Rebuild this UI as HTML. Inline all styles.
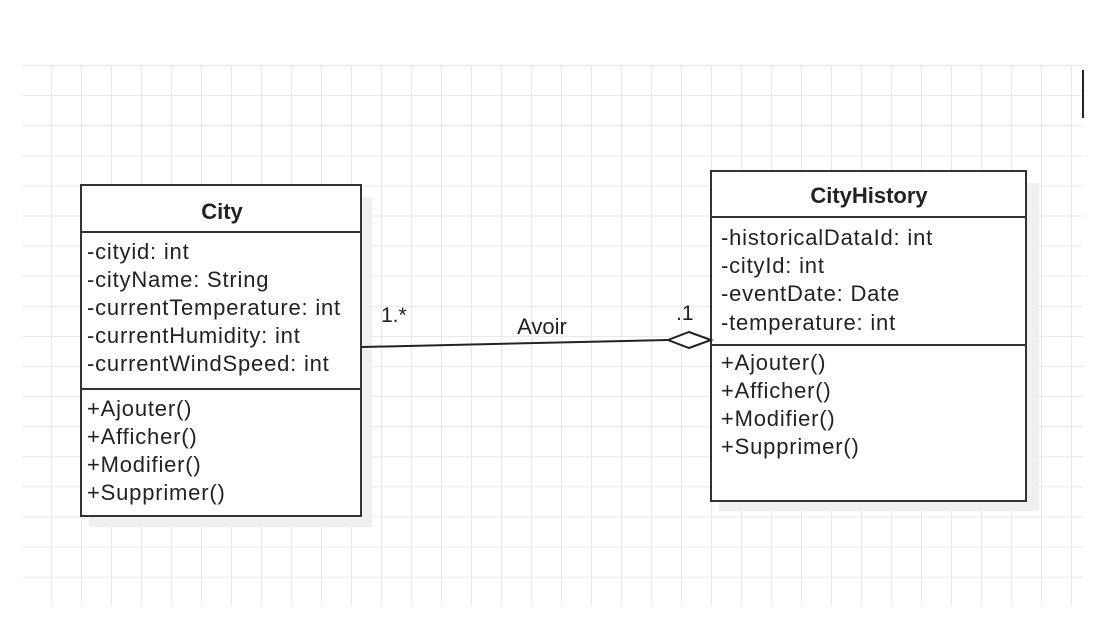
<!DOCTYPE html>
<html><head><meta charset="utf-8"><style>
html,body{margin:0;padding:0;background:#fff;}
svg{display:block;}
text{font-family:"Liberation Sans",sans-serif;fill:#222;}
</style></head><body>
<svg width="1104" height="632" viewBox="0 0 1104 632" xmlns="http://www.w3.org/2000/svg">
<defs>
<pattern id="g" x="22" y="65" width="30" height="30.1" patternUnits="userSpaceOnUse">
<path d="M30 0V30.1M0 0H30" stroke="#e8e8e8" stroke-width="2" fill="none"/>
</pattern>
</defs>
<rect x="22" y="65" width="1061" height="541" fill="url(#g)"/>
<line x1="1083" y1="70" x2="1083" y2="118" stroke="#222" stroke-width="2"/>
<!-- City -->
<rect x="89" y="197" width="283" height="330" fill="#f0f0f0"/>
<rect x="81" y="185" width="280" height="331" fill="#fff" stroke="#333" stroke-width="2"/>
<line x1="81" y1="232" x2="361" y2="232" stroke="#333" stroke-width="2"/>
<line x1="81" y1="389" x2="361" y2="389" stroke="#333" stroke-width="2"/>
<text x="222" y="219" text-anchor="middle" font-weight="bold" font-size="22">City</text>
<g font-size="22" letter-spacing="0.8">
<text x="87" y="259">-cityid: int</text>
<text x="87" y="287">-cityName: String</text>
<text x="87" y="315">-currentTemperature: int</text>
<text x="87" y="343">-currentHumidity: int</text>
<text x="87" y="371">-currentWindSpeed: int</text>
<text x="87" y="416">+Ajouter()</text>
<text x="87" y="444">+Afficher()</text>
<text x="87" y="472">+Modifier()</text>
<text x="87" y="500">+Supprimer()</text>
</g>
<!-- CityHistory -->
<rect x="719" y="183" width="320" height="328" fill="#f0f0f0"/>
<rect x="711" y="171" width="315" height="330" fill="#fff" stroke="#333" stroke-width="2"/>
<line x1="711" y1="217" x2="1026" y2="217" stroke="#333" stroke-width="2"/>
<line x1="711" y1="345" x2="1026" y2="345" stroke="#333" stroke-width="2"/>
<text x="869" y="203" text-anchor="middle" font-weight="bold" font-size="22">CityHistory</text>
<g font-size="22" letter-spacing="0.8">
<text x="721" y="245">-historicalDataId: int</text>
<text x="721" y="273">-cityId: int</text>
<text x="721" y="301">-eventDate: Date</text>
<text x="721" y="330">-temperature: int</text>
<text x="721" y="370">+Ajouter()</text>
<text x="721" y="398">+Afficher()</text>
<text x="721" y="426">+Modifier()</text>
<text x="721" y="454">+Supprimer()</text>
</g>
<!-- connector -->
<line x1="362" y1="347" x2="668" y2="340" stroke="#222" stroke-width="2"/>
<polygon points="668,340 689,332 711,340 689,348" fill="#fff" stroke="#222" stroke-width="2"/>
<text x="381" y="322" font-size="21">1.*</text>
<text x="542" y="334" text-anchor="middle" font-size="22">Avoir</text>
<text x="676" y="320" font-size="21">.1</text>
</svg>
</body></html>
